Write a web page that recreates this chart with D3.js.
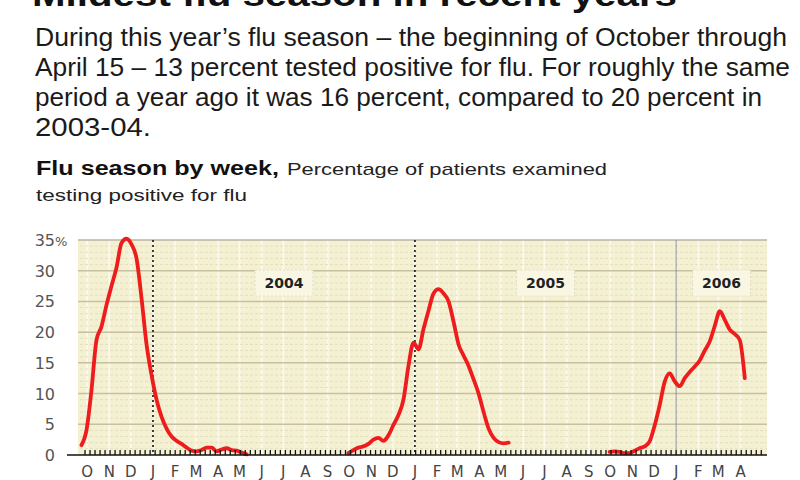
<!DOCTYPE html>
<html>
<head>
<meta charset="utf-8">
<script src="https://cdn.jsdelivr.net/npm/d3@7"></script>
<style>
  body { margin: 0; background: #fff; }
  svg { display: block; }
</style>
</head>
<body>
<svg width="800" height="480"></svg>
<script>
// weekly percent positive, one array per season
var season0304 = [1.6, 4, 10.5, 18.7, 20.9, 24.4, 27.5, 30.5, 34.5, 35.2, 34.3, 32, 25.5, 18, 13, 9, 6.2, 4.3, 3.0, 2.3,
  1.8, 1.2, 0.7, 0.6, 0.8, 1.2, 1.2, 0.6, 0.9, 1.1, 0.8, 0.7, 0.4, 0.1];
var season0405 = [0.3, 0.8, 1.2, 1.4, 1.8, 2.5, 2.8, 2.3, 3.2, 4.9, 6.5, 9, 14.5, 18.3, 17.2, 20.5, 23.5, 26.3, 27, 26.3,
  25, 21.7, 18, 16.2, 14.5, 12.3, 10, 7, 4.3, 2.8, 2.1, 1.9, 2.0];
var season0506 = [0.5, 0.6, 0.5, 0.3, 0.3, 0.7, 1.1, 1.4, 2.2, 4.8, 8.1, 11.9, 13.3, 12.0, 11.2, 12.5, 13.5, 14.4, 15.4, 17,
  18.5, 21, 23.4, 22, 20.4, 19.7, 18.7, 12.5];
var seasonStarts = ["2003-09-23", "2004-09-30", "2005-09-30"];

var monthLabels = ["O","N","D","J","F","M","A","M","J","J","A","S",
                   "O","N","D","J","F","M","A","M","J","J","A","S",
                   "O","N","D","J","F","M","A"];
var yearLabels = ["2004", "2005", "2006"];
var yTicks = [0, 5, 10, 15, 20, 25, 30, 35];

var paragraph = [
  "During this year\u2019s flu season \u2013 the beginning of October through",
  "April 15 \u2013 13 percent tested positive for flu. For roughly the same",
  "period a year ago it was 16 percent, compared to 20 percent in",
  "2003-04."
];

var svg = d3.select("svg");
var parse = d3.timeParse("%Y-%m-%d");

// plot box (don't call these top/left, window.top is taken)
var pLeft = 80, pRight = 767, pTop = 240, pBottom = 455;

var x = d3.scaleTime()
    .domain([new Date(2003, 8, 21), new Date(2006, 4, 8)])
    .range([pLeft, pRight]);
var y = d3.scaleLinear().domain([0, 35]).range([pBottom, pTop]);

// headline, cut off at the top of the frame
svg.append("text")
    .attr("x", 32).attr("y", 6)
    .attr("textLength", 645).attr("lengthAdjust", "spacingAndGlyphs")
    .style("font-family", "Liberation Sans, Arial, sans-serif")
    .style("font-weight", "bold").style("font-size", "34px").style("fill", "#111")
    .text("Mildest flu season in recent years");

var lineW = [752, 755, 727, 116];
svg.selectAll("text.para").data(paragraph).enter().append("text")
    .attr("class", "para")
    .attr("x", 35)
    .attr("y", function(d, i) { return 46 + i * 30; })
    .attr("textLength", function(d, i) { return lineW[i]; })
    .attr("lengthAdjust", "spacingAndGlyphs")
    .style("font-family", "Liberation Sans, Arial, sans-serif")
    .style("font-size", "25px").style("fill", "#1a1a1a")
    .text(function(d) { return d; });

svg.append("text").attr("x", 36).attr("y", 175)
    .attr("textLength", 243).attr("lengthAdjust", "spacingAndGlyphs")
    .style("font-family", "Liberation Sans, Arial, sans-serif").style("fill", "#111")
    .style("font-weight", "bold").style("font-size", "20px")
    .text("Flu season by week,");
svg.append("text").attr("x", 287).attr("y", 175)
    .attr("textLength", 320).attr("lengthAdjust", "spacingAndGlyphs")
    .style("font-family", "Liberation Sans, Arial, sans-serif").style("fill", "#222")
    .style("font-size", "17px")
    .text("Percentage of patients examined");
svg.append("text").attr("x", 36).attr("y", 201)
    .attr("textLength", 211).attr("lengthAdjust", "spacingAndGlyphs")
    .style("font-family", "Liberation Sans, Arial, sans-serif").style("font-size", "17px").style("fill", "#222")
    .text("testing positive for flu");

// plot background
svg.append("rect")
    .attr("x", pLeft - 2).attr("y", pTop)
    .attr("width", pRight - pLeft + 2).attr("height", pBottom - pTop)
    .attr("fill", "#f4f0d2");

// faint month lines
var monthDates = d3.timeMonth.range(new Date(2003, 9, 1), new Date(2006, 4, 1));
svg.append("g").selectAll("line").data(monthDates).enter().append("line")
    .attr("x1", function(d) { return x(d); }).attr("x2", function(d) { return x(d); })
    .attr("y1", pTop).attr("y2", pBottom)
    .attr("stroke", "#fdfcf3").attr("stroke-width", 2).attr("opacity", 0.8);

// minor and major horizontal grid
svg.append("g").selectAll("line").data(d3.range(1, 35)).enter().append("line")
    .attr("x1", pLeft).attr("x2", pRight)
    .attr("y1", function(d) { return y(d); }).attr("y2", function(d) { return y(d); })
    .attr("stroke", "#e4dec0").attr("stroke-width", 1).attr("stroke-dasharray", "3,2");
svg.append("g").selectAll("line").data(yTicks.slice(1)).enter().append("line")
    .attr("x1", pLeft - 2).attr("x2", pRight)
    .attr("y1", function(d) { return y(d); }).attr("y2", function(d) { return y(d); })
    .attr("stroke", function(d) { return d == 35 ? "#b8b3a6" : "#c9c0a0"; })
    .attr("stroke-width", 1.5);

// year labels with a light box
var yearStarts = [new Date(2004, 0, 1), new Date(2005, 0, 1), new Date(2006, 0, 1)];
var yearEnds = [new Date(2005, 0, 1), new Date(2006, 0, 1), x.domain()[1]];
var yl = svg.append("g").selectAll("g").data(yearLabels).enter().append("g")
    .attr("transform", function(d, i) {
      return "translate(" + ((x(yearStarts[i]) + x(yearEnds[i])) / 2) + ",283)";
    });
yl.append("rect").attr("x", -29).attr("y", -13).attr("width", 58).attr("height", 26)
    .attr("fill", "#f9f7e4").attr("stroke", "#e2ddc2").attr("stroke-dasharray", "2,2");
yl.append("text").attr("text-anchor", "middle").attr("y", 5)
    .style("font-family", "DejaVu Sans, sans-serif").style("font-weight", "bold")
    .style("font-size", "14px").style("fill", "#222")
    .text(function(d) { return d; });

// dotted year dividers
svg.append("g").selectAll("line").data(yearStarts).enter().append("line")
    .attr("x1", function(d) { return x(d); }).attr("x2", function(d) { return x(d); })
    .attr("y1", pTop).attr("y2", pBottom)
    .attr("stroke", function(d, i) { return i == 2 ? "#8a8f99" : "#111"; })
    .attr("stroke-width", function(d, i) { return i == 2 ? 1 : 1.6; })
    .attr("stroke-dasharray", function(d, i) { return i == 2 ? null : "2,3"; });

// flu line
var line = d3.line()
    .x(function(d) { return x(d.date); })
    .y(function(d) { return y(d.v); })
    .curve(d3.curveMonotoneX);

[season0304, season0405, season0506].forEach(function(vals, s) {
  var start = parse(seasonStarts[s]);
  var pts = vals.map(function(v, i) { return { date: d3.timeDay.offset(start, 7 * i), v: v }; });
  svg.append("path").datum(pts)
      .attr("d", line)
      .attr("fill", "none")
      .attr("stroke", "#ee1c1c")
      .attr("stroke-width", 3.8)
      .attr("stroke-linejoin", "round")
      .attr("stroke-linecap", "round");
});

// bottom axis: baseline with weekly ticks, month letters
var weeks = d3.timeWeek.range(new Date(2003, 8, 24), new Date(2006, 4, 6));
svg.append("g").selectAll("line").data(weeks).enter().append("line")
    .attr("x1", function(d) { return x(d); }).attr("x2", function(d) { return x(d); })
    .attr("y1", pBottom).attr("y2", pBottom - 5)
    .attr("stroke", "#111").attr("stroke-width", 1.3);
svg.append("line").attr("x1", 67).attr("x2", pRight)
    .attr("y1", pBottom).attr("y2", pBottom)
    .attr("stroke", "#111").attr("stroke-width", 1.5);

svg.append("g").selectAll("text").data(monthLabels).enter().append("text")
    .attr("x", function(d, i) { return x(monthDates[i]); })
    .attr("y", 477)
    .attr("text-anchor", "middle")
    .style("font-family", "DejaVu Sans, sans-serif").style("font-size", "15px").style("fill", "#444")
    .text(function(d) { return d; });

// y labels
svg.append("g").selectAll("text").data(yTicks).enter().append("text")
    .attr("x", 55)
    .attr("y", function(d) { return y(d) + 6; })
    .attr("text-anchor", "end")
    .style("font-family", "DejaVu Sans, sans-serif").style("font-size", "16px").style("fill", "#555")
    .text(function(d) { return d; });
svg.append("text").attr("x", 55).attr("y", y(35) + 6)
    .style("font-family", "DejaVu Sans, sans-serif").style("font-size", "13px").style("fill", "#555")
    .text("%");
</script>
</body>
</html>
